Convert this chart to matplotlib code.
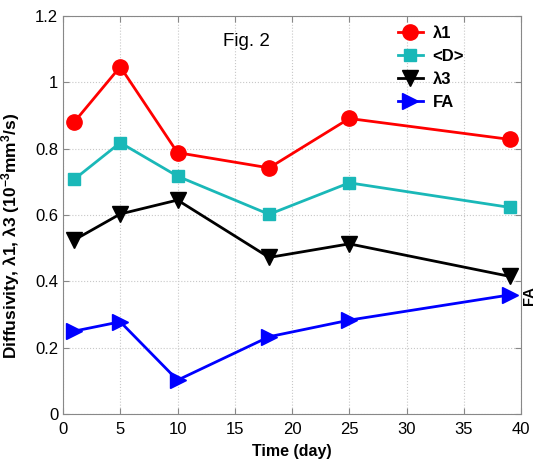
import numpy as np
import matplotlib
matplotlib.use('Agg')
import matplotlib.pyplot as plt

plt.rcParams['font.family'] = ['Liberation Sans', 'DejaVu Sans']
plt.rcParams['mathtext.fontset'] = 'custom'
plt.rcParams['mathtext.rm'] = 'Liberation Sans:bold'
plt.rcParams['mathtext.bf'] = 'Liberation Sans:bold'
plt.rcParams['mathtext.default'] = 'bf'

# data
days = [1, 5, 10, 18, 25, 39]
lambda1 = [0.881, 1.047, 0.788, 0.742, 0.891, 0.828]
meanD = [0.708, 0.818, 0.717, 0.602, 0.697, 0.623]
lambda3 = [0.525, 0.603, 0.645, 0.472, 0.513, 0.415]
fa = [0.250, 0.278, 0.102, 0.233, 0.283, 0.359]

series_names = ['λ1', '<D>', 'λ3', 'FA']
x_ticks = [0, 5, 10, 15, 20, 25, 30, 35, 40]
y_ticks = [0, 0.2, 0.4, 0.6, 0.8, 1.0, 1.2]
y_ticklabels = ['0', '0.2', '0.4', '0.6', '0.8', '1', '1.2']

fig = plt.figure(figsize=(5.37, 4.62), dpi=100)
ax = fig.add_axes([0.1173, 0.1039, 0.8530, 0.8615])

ax.plot(days, lambda1, color='#ff0000', marker='o', markersize=11, lw=2, label=series_names[0])
ax.plot(days, meanD, color='#1ab8b8', marker='s', markersize=9, lw=2, label=series_names[1])
ax.plot(days, lambda3, color='black', marker='v', markersize=12, lw=2, label=series_names[2])
ax.plot(days, fa, color='#0000ff', marker='>', markersize=12, lw=2, label=series_names[3])

ax.set_xlim(0, 40)
ax.set_ylim(0, 1.2)
ax.set_xticks(x_ticks)
ax.set_yticks(y_ticks)
ax.set_yticklabels(y_ticklabels)
ax.tick_params(direction='in', top=True, right=True, labelsize=12, length=4, color='#888888')
ax.tick_params(axis='x', pad=6)
ax.grid(True, linestyle=':', color='#c8c8c8', linewidth=0.8)
for s in ax.spines.values():
    s.set_color('#888888')

ax.set_xlabel('Time (day)', fontsize=11.5, fontweight='bold', labelpad=5)
ax.set_ylabel('Diffusivity, λ1, λ3 (10$^{-3}$mm$^{3}$/s)', fontsize=12.5, fontweight='bold')
ax.yaxis.set_label_coords(-0.09, 0.447)

ax.text(0.40, 0.935, 'Fig. 2', transform=ax.transAxes, fontsize=13.5, ha='center', va='center')
fig.text(0.985, 0.36, 'FA', rotation=90, fontsize=10.5, fontweight='bold', ha='center', va='center')

ax.legend(loc='upper left', bbox_to_anchor=(0.705, 1.005), frameon=False,
          prop={'size': 12, 'weight': 'bold'},
          handlelength=1.5, handletextpad=0.6, labelspacing=0.48, borderpad=0.2)

plt.savefig('out.png', dpi=100)
